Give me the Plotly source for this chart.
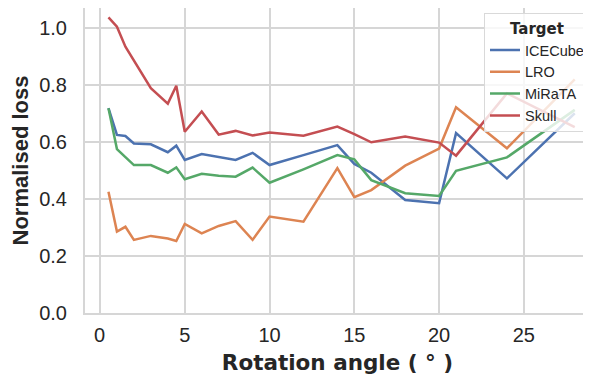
import plotly.graph_objects as go

angles = [0.5, 1, 1.5, 2, 3, 4, 4.5, 5, 6, 7, 8, 9, 10, 12, 14, 15, 16, 18, 20, 21, 24, 28]

icecube = [0.720, 0.626, 0.622, 0.596, 0.593, 0.565, 0.588, 0.538, 0.559, 0.549, 0.538, 0.563, 0.520,
           0.555, 0.590, 0.524, 0.493, 0.397, 0.386, 0.632, 0.473, 0.702]
lro = [0.426, 0.286, 0.303, 0.257, 0.271, 0.262, 0.253, 0.313, 0.280, 0.306, 0.323, 0.257, 0.339,
       0.321, 0.509, 0.407, 0.432, 0.518, 0.578, 0.723, 0.579, 0.821]
mirata = [0.720, 0.576, 0.548, 0.520, 0.520, 0.493, 0.512, 0.470, 0.489, 0.482, 0.479, 0.511, 0.458,
          0.505, 0.555, 0.540, 0.467, 0.421, 0.411, 0.500, 0.547, 0.714]
skull = [1.039, 1.006, 0.936, 0.888, 0.790, 0.736, 0.799, 0.637, 0.708, 0.627, 0.640, 0.624, 0.634,
         0.623, 0.655, 0.629, 0.600, 0.620, 0.599, 0.553, 0.772, 0.653]

series_names = ["ICECube", "LRO", "MiRaTA", "Skull"]
series_values = [icecube, lro, mirata, skull]
colors = ["#4C72B0", "#DD8452", "#55A868", "#C44E52"]

x_ticks = [0, 5, 10, 15, 20, 25]
x_tick_labels = ["", "5", "10", "15", "20", "25"]   # the "0" label is drawn as an annotation below
x_zero_label = "0"
y_ticks = [0.0, 0.2, 0.4, 0.6, 0.8, 1.0]
y_tick_labels = ["0.0", "0.2", "0.4", "0.6", "0.8", "1.0"]

fig = go.Figure()
for name, vals, col in zip(series_names, series_values, colors):
    fig.add_trace(go.Scatter(x=angles, y=vals, mode="lines", name=name,
                             line=dict(color=col, width=2.5)))

grid = "#d6d6d6"
txt = "#262626"
fig.add_annotation(x=x_ticks[0], xref="x", y=0, yref="paper", yanchor="top", xanchor="center",
                   yshift=-9, text=x_zero_label, showarrow=False,
                   font=dict(family="Liberation Sans, Arial, sans-serif", size=20, color=txt))

# page body keeps its default 8px margin, so the figure is sized/offset to fit the window
fig.update_layout(
    width=583, height=367,
    margin=dict(l=77, r=1, t=0, b=62),
    paper_bgcolor="white", plot_bgcolor="white",
    font=dict(family="Liberation Sans, Arial, sans-serif", color=txt),
    hovermode=False,
    showlegend=True,
    legend=dict(
        x=1.0, y=0.982, xanchor="right", yanchor="top",
        bgcolor="rgba(255,255,255,0.8)", bordercolor="#d9d9d9", borderwidth=1,
        font=dict(family="Liberation Sans, Arial, sans-serif", size=14.5, color=txt),
        title=dict(text="<b>Target</b>", side="top center",
                   font=dict(family="DejaVu Sans, sans-serif", size=15, color=txt)),
        tracegroupgap=0,
    ),
    xaxis=dict(
        range=[-0.884, 28.9], tickmode="array", tickvals=x_ticks, ticktext=x_tick_labels,
        showgrid=True, gridcolor=grid, gridwidth=2,
        showline=True, linecolor=grid, linewidth=2, mirror=True,
        zeroline=False, ticks="", ticklabelstandoff=3, automargin=False,
        tickfont=dict(size=20, color=txt),
        title=dict(text="<b>Rotation angle ( ° )</b>", standoff=10,
                   font=dict(family="DejaVu Sans, sans-serif", size=21.5, color=txt)),
    ),
    yaxis=dict(
        range=[0, 1.072], tickmode="array", tickvals=y_ticks, ticktext=y_tick_labels,
        showgrid=True, gridcolor=grid, gridwidth=2,
        showline=True, linecolor=grid, linewidth=2, mirror=False,
        zeroline=False, ticks="", ticklabelstandoff=12, automargin=False,
        tickfont=dict(size=20, color=txt),
        title=dict(text="<b>Normalised loss</b>", standoff=5,
                   font=dict(family="Liberation Sans, Arial, sans-serif", size=22, color=txt)),
    ),
)

fig.write_html("out.html", config={"displayModeBar": False, "staticPlot": True})
